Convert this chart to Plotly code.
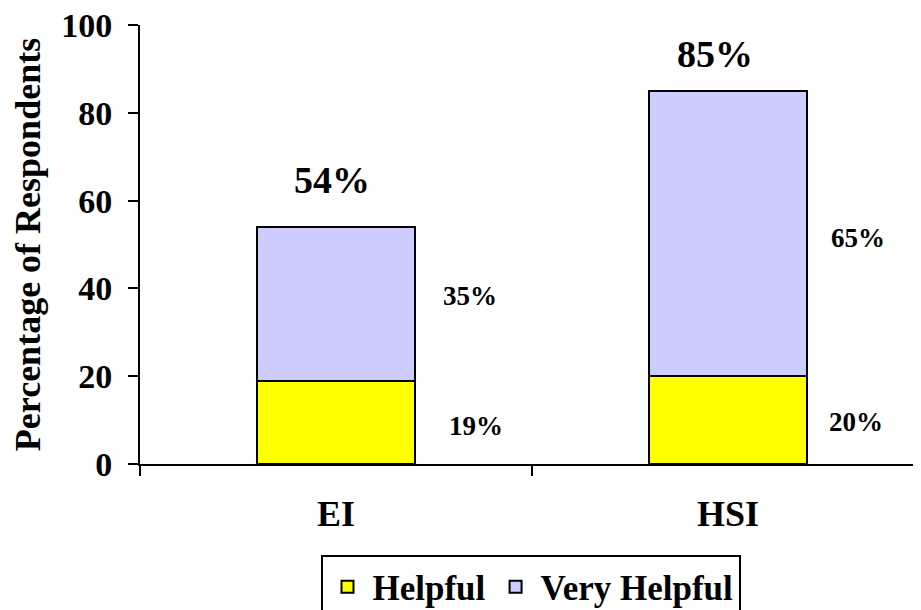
import plotly.graph_objects as go

categories = ["EI", "HSI"]
helpful = [19, 20]
very_helpful = [35, 65]
totals = [54, 85]
helpful_labels = ["19%", "20%"]
very_helpful_labels = ["35%", "65%"]
total_labels = ["54%", "85%"]
y_ticks = [0, 20, 40, 60, 80, 100]

FONT = "Liberation Serif"

fig = go.Figure()
fig.add_trace(go.Bar(
    x=categories, y=helpful, name="Helpful",
    marker=dict(color="#FFFF00", line=dict(color="black", width=2)),
))
fig.add_trace(go.Bar(
    x=categories, y=very_helpful, name="Very Helpful",
    marker=dict(color="#CCCCFF", line=dict(color="black", width=2)),
))

annotations = []
total_shift_x = [-4, -13]
total_shift_y = [47, 37]
helpful_shift_x = [7, -5]
helpful_shift_y = [-4, -2]
very_shift_x = [1, -3]
very_shift_y = [8, -4]
for i, (h, v, t) in enumerate(zip(helpful, very_helpful, totals)):
    annotations.append(dict(
        x=i, y=t, xref="x", yref="y", text=total_labels[i], showarrow=False,
        xanchor="center", yanchor="middle", xshift=total_shift_x[i], yshift=total_shift_y[i],
        font=dict(family=FONT, size=38, color="black", weight="bold"),
    ))
    annotations.append(dict(
        x=i + 0.34, y=h / 2, xref="x", yref="y", text=helpful_labels[i], showarrow=False,
        xanchor="center", yanchor="middle",
        xshift=helpful_shift_x[i], yshift=helpful_shift_y[i],
        font=dict(family=FONT, size=27, color="black", weight="bold"),
    ))
    annotations.append(dict(
        x=i + 0.34, y=h + v / 2, xref="x", yref="y", text=very_helpful_labels[i], showarrow=False,
        xanchor="center", yanchor="middle",
        xshift=very_shift_x[i], yshift=very_shift_y[i],
        font=dict(family=FONT, size=27, color="black", weight="bold"),
    ))

fig.update_layout(
    width=913, height=602,
    margin=dict(l=132, r=0, t=17, b=145.5, autoexpand=False),
    paper_bgcolor="white", plot_bgcolor="white",
    barmode="stack", bargap=0.597,
    font=dict(family=FONT, color="black"),
    annotations=annotations,
    showlegend=True,
    legend=dict(
        orientation="h", traceorder="normal",
        x=0.5, xref="paper", xanchor="center",
        y=-0.2082, yanchor="top", itemwidth=40,
        bordercolor="black", borderwidth=2, bgcolor="white",
        font=dict(family=FONT, size=35, color="black", weight="bold"),
    ),
    xaxis=dict(
        type="category", range=[-0.5, 1.4923],
        showline=True, linecolor="black", linewidth=2,
        ticks="outside", ticklen=10, tickwidth=2, tickcolor="black",
        tickson="boundaries", showgrid=False, zeroline=False,
        tickfont=dict(family=FONT, size=36, color="black", weight="bold"),
        ticklabelstandoff=17, ticklabeloverflow="allow",
    ),
    yaxis=dict(
        range=[0, 100], tickvals=y_ticks,
        showline=True, linecolor="black", linewidth=2,
        ticks="outside", ticklen=10, tickwidth=2, tickcolor="black",
        showgrid=False, zeroline=False,
        ticklabelstandoff=9, ticklabeloverflow="allow",
        tickfont=dict(family=FONT, size=34, color="black", weight="bold"),
        title=dict(text="Percentage of Respondents", standoff=11,
                   font=dict(family=FONT, size=36, color="black", weight="bold")),
    ),
)

fig.write_html("out.html")
